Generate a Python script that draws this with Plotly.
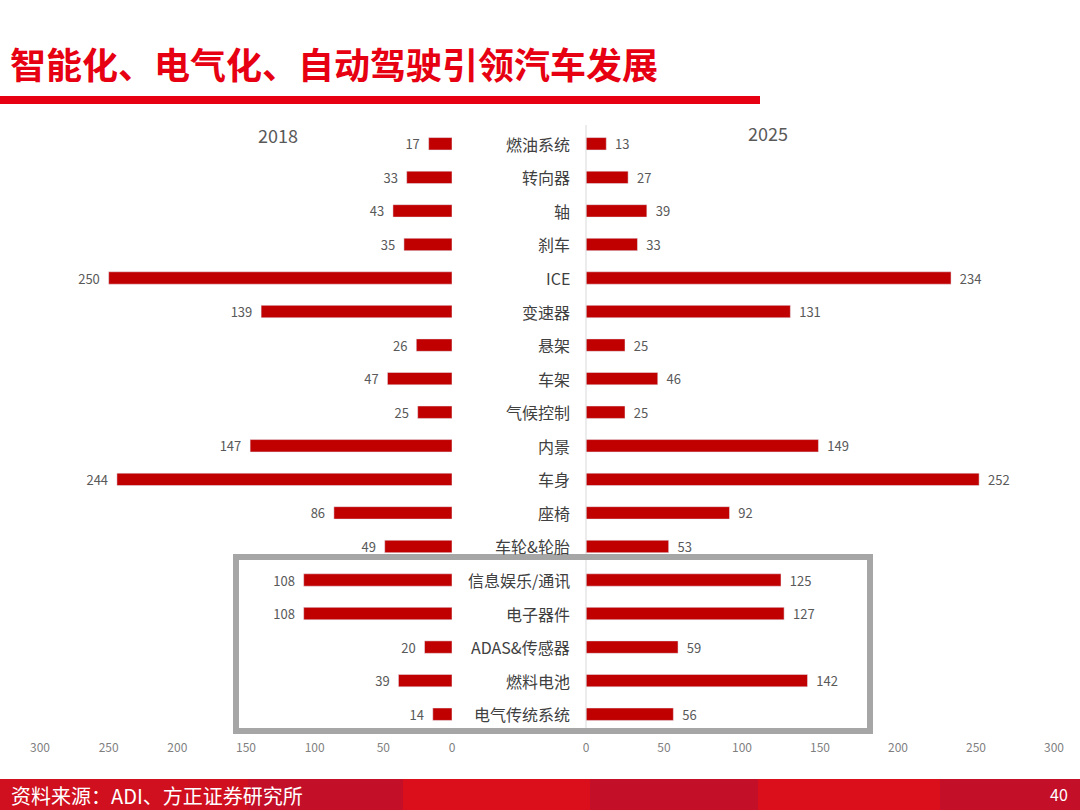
import plotly.graph_objects as go

W, H = 1080, 810

categories = ["燃油系统", "转向器", "轴", "刹车", "ICE", "变速器", "悬架", "车架", "气候控制",
              "内景", "车身", "座椅", "车轮&轮胎", "信息娱乐/通讯", "电子器件", "ADAS&传感器",
              "燃料电池", "电气传统系统"]
values_2018 = [17, 33, 43, 35, 250, 139, 26, 47, 25, 147, 244, 86, 49, 108, 108, 20, 39, 14]
values_2025 = [13, 27, 39, 33, 234, 131, 25, 46, 25, 149, 252, 92, 53, 125, 127, 59, 142, 56]
tick_vals = [0, 50, 100, 150, 200, 250, 300]

FONT = "Noto Sans CJK SC"
BAR = "#C00000"
GREY = "#595959"
NB = "\u00a0"


def px(x):
    return x / W


def py(y):
    return 1 - y / H


fig = go.Figure()
fig.add_trace(go.Bar(y=categories, x=values_2018, orientation="h", xaxis="x", yaxis="y",
                     marker=dict(color=BAR), texttemplate="%{x}" + NB * 2, textposition="outside",
                     constraintext="none", cliponaxis=False,
                     textfont=dict(size=13, color=GREY, family=FONT), hoverinfo="x+y"))
fig.add_trace(go.Bar(y=categories, x=values_2025, orientation="h", xaxis="x2", yaxis="y",
                     marker=dict(color=BAR), texttemplate=NB * 2 + "%{x}", textposition="outside",
                     constraintext="none", cliponaxis=False,
                     textfont=dict(size=13, color=GREY, family=FONT), hoverinfo="x+y"))

axis_common = dict(tickvals=tick_vals, showgrid=False, zeroline=False, showline=False,
                   automargin=False, ticks="", ticklabelstandoff=8,
                   tickfont=dict(size=12, color="#7F7F7F", family=FONT))
fig.update_layout(
    width=W, height=H,
    margin=dict(l=0, r=0, t=0, b=0, pad=0, autoexpand=False),
    paper_bgcolor="white", plot_bgcolor="rgba(0,0,0,0)",
    showlegend=False, bargap=0.63,
    font=dict(family=FONT),
    xaxis=dict(domain=[px(40), px(452)], range=[300, 0], anchor="y", **axis_common),
    xaxis2=dict(domain=[px(586), px(1054)], range=[0, 300], anchor="y", **axis_common),
    yaxis=dict(domain=[py(731), py(127)], autorange="reversed", showticklabels=False,
               showgrid=False, zeroline=False, showline=False, ticks="", automargin=False),
)

# category labels in the middle
for cat in categories:
    fig.add_annotation(x=px(572), y=cat, xref="paper", yref="y", text=cat, showarrow=False,
                       xanchor="right", yanchor="middle",
                       font=dict(size=16, color="#404040", family=FONT))

shapes = [
    # faint axis line of right panel
    dict(type="line", xref="paper", yref="paper", x0=px(586), x1=px(586), y0=py(125), y1=py(733),
         line=dict(color="#D9D9D9", width=1)),
    # grey frame around new-tech items
    dict(type="rect", xref="paper", yref="paper", x0=px(236), x1=px(870), y0=py(557), y1=py(731),
         line=dict(color="#A6A6A6", width=6)),
    # red rule under title
    dict(type="rect", xref="paper", yref="paper", x0=0, x1=px(760), y0=py(104), y1=py(96),
         line=dict(width=0), fillcolor="#E60012"),
]
# footer band, alternating shades of red
band_edges = [0, 248, 403, 590, 758, 940, 1080]
band_colors = ["#D0101F", "#C40F29", "#DA0F1B", "#C40F29", "#DA0F1B", "#C40F29"]
for i, col in enumerate(band_colors):
    shapes.append(dict(type="rect", xref="paper", yref="paper", x0=px(band_edges[i]),
                       x1=px(band_edges[i + 1]), y0=0, y1=py(779),
                       line=dict(width=0), fillcolor=col, layer="below"))
fig.update_layout(shapes=shapes)


def label(x, y, text, size, color, xanchor="center", bold=False):
    if bold:
        text = "<b>" + text + "</b>"
    fig.add_annotation(x=px(x), y=py(y), xref="paper", yref="paper", text=text, showarrow=False,
                       xanchor=xanchor, yanchor="middle",
                       font=dict(size=size, color=color, family=FONT))


label(8, 63, "智能化、电气化、自动驾驶引领汽车发展", 36, "#E60012", xanchor="left", bold=True)
label(278, 135, "2018", 18, GREY)
label(768, 133, "2025", 18, GREY)
label(9, 795, "资料来源：ADI、方正证券研究所", 20, "white", xanchor="left")
label(1070, 794, "40", 16, "white", xanchor="right")

fig.write_html("out.html", config={"displayModeBar": False},
               post_script="document.body.style.margin = '0'; document.body.style.overflow = 'hidden';")
